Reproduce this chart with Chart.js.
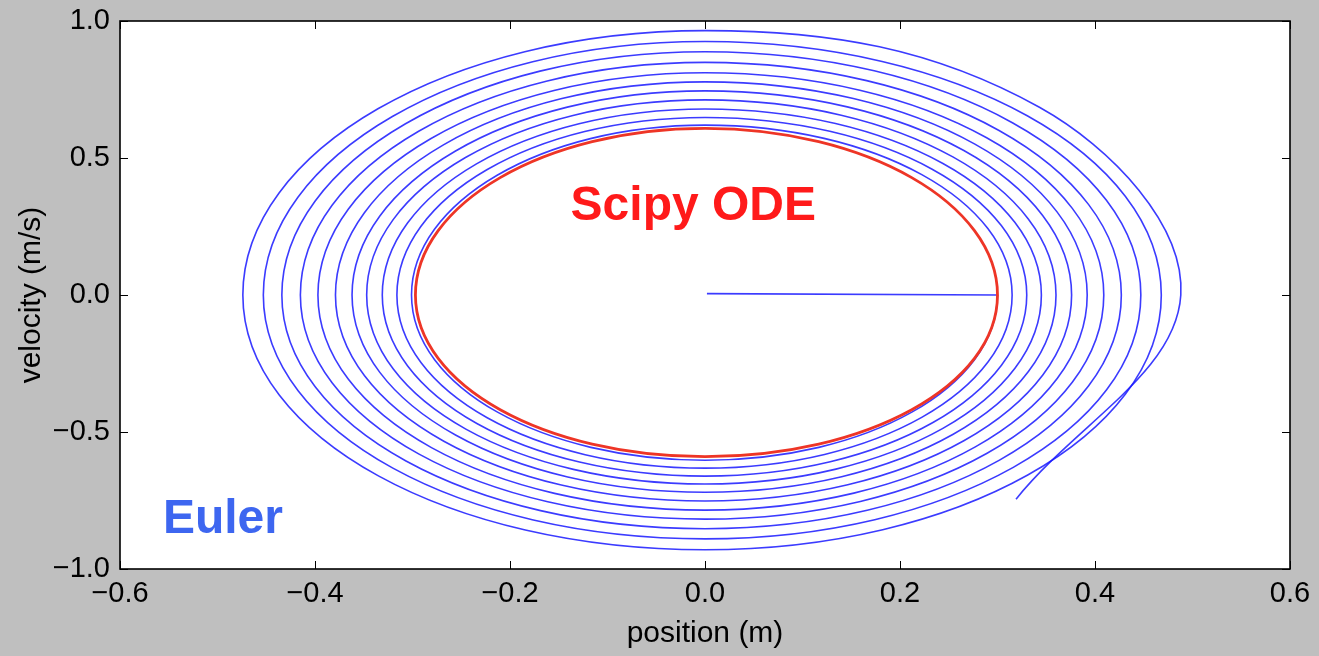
<!DOCTYPE html>
<html>
<head>
<meta charset="utf-8">
<script src="https://cdn.jsdelivr.net/npm/chart.js@4.4.1/dist/chart.umd.min.js"></script>
<style>
  html, body { margin: 0; padding: 0; background: #bfbfbf; }
  #wrap { width: 1319px; height: 656px; position: relative; }
</style>
</head>
<body>
<div id="wrap"><canvas id="phase"></canvas></div>
<script>
const xTicks = [-0.6, -0.4, -0.2, 0.0, 0.2, 0.4, 0.6];
const yTicks = [-1.0, -0.5, 0.0, 0.5, 1.0];

// first Euler step, drawn straight out from the origin
const startX = [0.002, 0.300];
const startY = [0.005, 0.000];

// Euler spiral: right, bottom, left, top crossing of each turn, last right crossing, end point
const eulerX = [
  0.300, 0, -0.301, 0,
  0.315, 0, -0.316, 0,
  0.330, 0, -0.331, 0,
  0.345, 0, -0.347, 0,
  0.360, 0, -0.362, 0,
  0.376, 0, -0.379, 0,
  0.392, 0, -0.397, 0,
  0.409, 0, -0.415, 0,
  0.427, 0, -0.434, 0,
  0.447, 0, -0.453, 0,
  0.468, 0, -0.474, 0,
  0.488, 0.319
];
const eulerY = [
  0, -0.603, 0, 0.620,
  0, -0.632, 0, 0.648,
  0, -0.661, 0, 0.679,
  0, -0.690, 0, 0.712,
  0, -0.720, 0, 0.745,
  0, -0.752, 0, 0.778,
  0, -0.785, 0, 0.811,
  0, -0.818, 0, 0.849,
  0, -0.853, 0, 0.888,
  0, -0.890, 0, 0.925,
  0, -0.930, 0, 0.965,
  0, -0.745
];
// outer turn, upper-left and upper-right diagonal points
const outerX = [-0.335, 0.343];
const outerY = [0.682, 0.685];

// scipy odeint orbit: right, bottom, left, top
const odeX = [0.300, 0.000, -0.297, 0.000];
const odeY = [0.000, -0.590, 0.000, 0.608];

const FONT = "'Liberation Sans', Arial, Helvetica, sans-serif";

function pts(xs, ys) {
  return xs.map((x, i) => ({ x: x, y: ys[i] }));
}

function fmt(v) {
  if (Math.abs(v) < 1e-9) return '0.0';
  return (v < 0 ? '\u2212' : '') + Math.abs(v).toFixed(1);
}

// segments listed here are not stroked (they only give the curve its end tangents)
function hide(list) {
  return { borderColor: ctx => list.includes(ctx.p0DataIndex) ? 'rgba(0,0,0,0)' : undefined };
}

const euler = pts(eulerX, eulerY);
const n = euler.length;              // last = end point, n-2 = last right crossing
const outer = pts(outerX, outerY);
// quarter turns up to the last top crossing
const spiralData = [euler[3]].concat(euler.slice(0, n - 1));
// last quarter turn and the final arc, sampled closer
const tailData = [outer[0], euler[n - 3], outer[1], euler[n - 2], euler[n - 1]];
const ode = pts(odeX, odeY);
const odeData = [ode[3], ode[0], ode[1], ode[2], ode[3], ode[0], ode[1]];

const BLUE = 'rgba(25,25,255,0.85)';

const frame = {
  id: 'frame',
  beforeDraw(chart) {
    const { ctx, chartArea: a } = chart;
    ctx.save();
    ctx.fillStyle = '#bfbfbf';
    ctx.fillRect(0, 0, chart.width, chart.height);
    ctx.fillStyle = '#ffffff';
    ctx.fillRect(a.left, a.top, a.right - a.left, a.bottom - a.top);
    ctx.restore();
  },
  afterDatasetsDraw(chart, args, opts) {
    const { ctx, chartArea: a, scales: { x, y } } = chart;
    const len = 8;
    ctx.save();

    // text labels inside the plot
    ctx.font = 'bold 48px ' + FONT;
    ctx.textBaseline = 'alphabetic';
    opts.notes.forEach(t => {
      ctx.fillStyle = t.color;
      ctx.textAlign = t.align;
      ctx.fillText(t.text, x.getPixelForValue(t.x), y.getPixelForValue(t.y));
    });

    // inward ticks on all four sides
    ctx.strokeStyle = '#000';
    ctx.lineWidth = 1;
    ctx.beginPath();
    xTicks.forEach(v => {
      const px = Math.round(x.getPixelForValue(v)) + 0.5;
      ctx.moveTo(px, a.bottom); ctx.lineTo(px, a.bottom - len);
      ctx.moveTo(px, a.top); ctx.lineTo(px, a.top + len);
    });
    yTicks.forEach(v => {
      const py = Math.round(y.getPixelForValue(v)) + 0.5;
      ctx.moveTo(a.left, py); ctx.lineTo(a.left + len, py);
      ctx.moveTo(a.right, py); ctx.lineTo(a.right - len, py);
    });
    ctx.stroke();

    ctx.lineWidth = 1.6;
    ctx.strokeRect(a.left, a.top, a.right - a.left, a.bottom - a.top);
    ctx.restore();
  }
};

new Chart(document.getElementById('phase'), {
  type: 'scatter',
  data: {
    datasets: [
      {
        label: 'Scipy ODE',
        data: odeData,
        showLine: true,
        borderColor: '#ee3526',
        borderWidth: 2.8,
        tension: 0.552,
        pointRadius: 0,
        segment: hide([0, 5])
      },
      {
        label: 'Euler',
        data: spiralData,
        showLine: true,
        borderColor: BLUE,
        borderWidth: 1.6,
        tension: 0.552,
        pointRadius: 0,
        segment: hide([0, spiralData.length - 2])
      },
      {
        label: 'Euler tail',
        data: tailData,
        showLine: true,
        borderColor: BLUE,
        borderWidth: 1.6,
        tension: 0.375,
        pointRadius: 0,
        segment: hide([0])
      },
      {
        label: 'Euler start',
        data: pts(startX, startY),
        showLine: true,
        borderColor: BLUE,
        borderWidth: 1.6,
        tension: 0,
        pointRadius: 0
      }
    ]
  },
  options: {
    responsive: true,
    maintainAspectRatio: false,
    animation: false,
    events: [],
    layout: { padding: { left: 0, right: 29, top: 21, bottom: 0 } },
    plugins: {
      legend: { display: false },
      tooltip: { enabled: false },
      frame: {
        notes: [
          { text: 'Scipy ODE', x: -0.012, y: 0.275, color: '#ff1a1a', align: 'center' },
          { text: 'Euler', x: -0.556, y: -0.867, color: '#3d66f0', align: 'left' }
        ]
      }
    },
    scales: {
      x: {
        type: 'linear',
        min: -0.6,
        max: 0.6,
        afterBuildTicks: s => { s.ticks = xTicks.map(v => ({ value: v })); },
        afterFit: s => { s.height = 87; s.paddingLeft = 0; s.paddingRight = 0; },
        grid: { display: false, drawTicks: false },
        border: { display: false },
        ticks: {
          font: { family: FONT, size: 29 },
          color: '#000',
          padding: 8,
          maxRotation: 0,
          autoSkip: false,
          callback: v => fmt(v)
        },
        title: {
          display: true,
          text: 'position (m)',
          font: { family: FONT, size: 30 },
          color: '#000',
          padding: { top: 0, bottom: 4 }
        }
      },
      y: {
        type: 'linear',
        min: -1,
        max: 1,
        afterBuildTicks: s => { s.ticks = yTicks.map(v => ({ value: v })); },
        afterFit: s => { s.width = 120; s.paddingTop = 0; s.paddingBottom = 0; },
        grid: { display: false, drawTicks: false },
        border: { display: false },
        ticks: {
          font: { family: FONT, size: 29 },
          color: '#000',
          padding: 10,
          autoSkip: false,
          callback: v => fmt(v)
        },
        title: {
          display: true,
          text: 'velocity (m/s)',
          font: { family: FONT, size: 30 },
          color: '#000',
          padding: { top: 14, bottom: 0 }
        }
      }
    }
  },
  plugins: [frame]
});
</script>
</body>
</html>
